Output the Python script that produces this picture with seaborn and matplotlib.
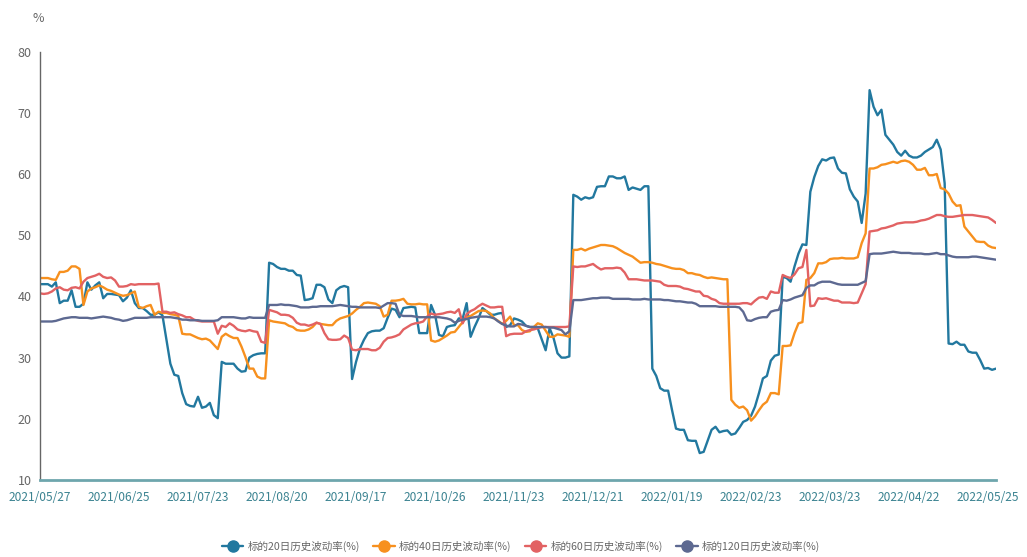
import numpy as np
import pandas as pd
import matplotlib
matplotlib.use("Agg")
import matplotlib.pyplot as plt
from matplotlib.lines import Line2D
import seaborn as sns

# ---------------- data ----------------
tick_labels = ['2021/05/27', '2021/06/25', '2021/07/23', '2021/08/20', '2021/09/17',
               '2021/10/26', '2021/11/23', '2021/12/21', '2022/01/19', '2022/02/23',
               '2022/03/23', '2022/04/22', '2022/05/25']

series_names = ['标的20日历史波动率(%)', '标的40日历史波动率(%)',
                '标的60日历史波动率(%)', '标的120日历史波动率(%)']

vol20 = [
    42.0, 42.0, 42.0, 41.6, 42.3, 38.9, 39.3, 39.3, 41.0, 38.3,
    38.3, 38.8, 42.3, 41.1, 41.8, 42.3, 39.7, 40.4, 40.4, 40.3,
    40.2, 39.2, 39.8, 41.0, 38.9, 38.1, 38.1, 37.6, 37.0, 37.0,
    37.4, 36.9, 33.0, 29.0, 27.2, 27.0, 24.2, 22.4, 22.1, 22.0,
    23.6, 21.8, 22.0, 22.6, 20.6, 20.1, 29.3, 29.0, 29.0, 29.0,
    28.2, 27.7, 27.8, 30.0, 30.4, 30.6, 30.7, 30.7, 45.5, 45.3,
    44.8, 44.5, 44.5, 44.2, 44.2, 43.5, 43.4, 39.4, 39.5, 39.7,
    41.9, 41.9, 41.5, 39.5, 38.9, 41.0, 41.5, 41.7, 41.5, 26.5,
    29.3, 31.5, 32.9, 34.0, 34.3, 34.4, 34.4, 34.8, 36.5, 38.0,
    37.8, 36.6, 38.1, 38.2, 38.3, 38.2, 34.0, 34.0, 34.0, 38.6,
    37.0, 33.7, 33.5, 35.0, 35.2, 35.3, 36.4, 36.4, 38.9, 33.4,
    35.0, 36.4, 38.1, 37.6, 37.0, 37.0, 37.2, 37.3, 35.0, 35.3,
    36.4, 36.2, 35.9, 35.2, 35.0, 35.0, 34.8, 33.0, 31.2, 34.8,
    33.2, 30.7, 30.0, 30.0, 30.2, 56.6, 56.3, 55.8, 56.2, 56.0,
    56.2, 57.9, 58.0, 58.0, 59.6, 59.6, 59.3, 59.3, 59.6, 57.4,
    57.8, 57.6, 57.4, 58.0, 58.0, 28.2, 27.0, 25.0, 24.6, 24.6,
    21.4, 18.4, 18.2, 18.2, 16.5, 16.4, 16.4, 14.4, 14.6, 16.4,
    18.2, 18.7, 17.8, 18.0, 18.1, 17.4, 17.6, 18.5, 19.5, 19.8,
    20.5, 22.0, 24.2, 26.6, 27.0, 29.5, 30.3, 30.5, 43.2, 43.0,
    42.4, 44.9, 47.0, 48.5, 48.4, 57.1, 59.5, 61.3, 62.4, 62.2,
    62.6, 62.7, 60.9, 60.2, 60.1, 57.5, 56.3, 55.5, 52.0, 56.8,
    73.7, 71.0, 69.6, 70.5, 66.4, 65.6, 64.8, 63.6, 63.0, 63.8,
    63.0, 62.7, 62.7, 63.0, 63.6, 64.0, 64.4, 65.6, 64.0, 58.5,
    32.3, 32.2, 32.6, 32.1, 32.1, 31.0, 30.8, 30.8, 29.6, 28.2,
    28.3, 28.0, 28.2]

vol40 = [
    43.0, 43.0, 43.0, 42.8, 42.7, 44.0, 44.0, 44.2, 44.9, 44.9,
    44.5, 38.6, 40.8, 41.3, 41.5, 41.8, 41.5, 41.1, 40.9, 40.6,
    40.3, 40.1, 40.2, 40.5, 40.8, 38.3, 38.1, 38.4, 38.6, 37.0,
    37.5, 37.3, 37.3, 37.1, 37.0, 36.8, 33.9, 33.8, 33.8, 33.5,
    33.2, 33.0, 33.1, 32.8, 32.1, 31.4, 33.4, 33.9, 33.5, 33.2,
    33.2, 31.8, 30.1, 28.2, 28.2, 26.9, 26.6, 26.6, 36.1, 35.9,
    35.8, 35.7, 35.6, 35.2, 35.0, 34.5, 34.4, 34.4, 34.6, 35.0,
    35.7, 35.5, 35.4, 35.3, 35.3, 36.0, 36.4, 36.6, 36.8, 37.2,
    37.8, 38.3, 38.9, 39.0, 38.9, 38.8, 38.4, 36.7, 37.0, 39.3,
    39.3, 39.4, 39.6, 38.8, 38.7, 38.7, 38.8, 38.7, 38.7, 32.8,
    32.6, 32.8, 33.2, 33.6, 34.1, 34.2, 35.0, 35.8, 36.6, 36.8,
    37.2, 37.6, 37.7, 37.6, 37.2, 36.4, 36.0, 35.5, 36.0, 36.7,
    35.3, 35.3, 34.5, 34.2, 34.3, 35.0, 35.6, 35.4, 34.4, 33.4,
    33.4, 33.8, 33.7, 33.6, 33.4, 47.6, 47.6, 47.8, 47.5, 47.8,
    48.0, 48.2, 48.4, 48.4, 48.3, 48.2, 47.9, 47.5, 47.1, 46.8,
    46.5, 46.0, 45.5, 45.6, 45.6, 45.5, 45.3, 45.2, 45.0, 44.8,
    44.6, 44.5, 44.5, 44.3, 43.8, 43.8, 43.6, 43.5, 43.2, 43.0,
    43.1, 43.0, 42.9, 42.8, 42.8, 23.1, 22.3, 21.8, 22.0, 21.4,
    19.7, 20.4, 21.4, 22.3, 22.8, 24.2, 24.2, 24.0, 31.9, 31.9,
    32.0, 34.0, 35.6, 35.8, 42.7, 43.0, 43.8, 45.4, 45.4, 45.6,
    46.1, 46.2, 46.2, 46.3, 46.2, 46.2, 46.2, 46.4, 48.7, 50.3,
    60.9, 60.9, 61.1, 61.5, 61.6, 61.8, 62.0, 61.8, 62.1, 62.2,
    62.0, 61.5, 60.7, 60.7, 61.0, 59.8, 59.8, 60.0, 57.7, 57.5,
    56.8, 55.5, 54.8, 54.9, 51.4, 50.6, 49.8, 49.0, 48.9, 48.9,
    48.3, 48.0, 47.9]

vol60 = [
    40.5, 40.4, 40.5, 40.8, 41.3, 41.5, 41.1, 41.0, 41.4, 41.5,
    41.3, 42.4, 43.0, 43.2, 43.4, 43.7, 43.2, 43.0, 43.1, 42.6,
    41.6, 41.6, 41.7, 42.0, 41.9, 42.0, 42.0, 42.0, 42.0, 42.0,
    42.1, 37.5, 37.5, 37.3, 37.4, 37.1, 36.9, 36.6, 36.6, 36.2,
    36.0, 35.9, 35.9, 35.9, 35.9, 33.9, 35.2, 35.0, 35.6, 35.2,
    34.6, 34.4, 34.3, 34.5, 34.3, 34.2, 32.6, 32.4, 37.8, 37.6,
    37.4, 37.0, 37.0, 36.9, 36.5, 35.7, 35.4, 35.4, 35.2, 35.4,
    35.7, 35.5, 34.0, 33.0, 32.9, 32.9, 33.0, 33.6, 33.2, 31.3,
    31.2, 31.4, 31.4, 31.4, 31.2, 31.2, 31.6, 32.6, 33.2, 33.3,
    33.5, 33.8, 34.6, 35.0, 35.4, 35.6, 35.7, 35.9, 36.7, 37.2,
    37.0, 37.1, 37.2, 37.4, 37.5, 37.3, 37.9, 35.6, 37.1, 37.6,
    37.9, 38.4, 38.8, 38.5, 38.2, 38.2, 38.3, 38.3, 33.5, 33.8,
    33.9, 33.9, 33.9, 34.3, 34.5, 34.6, 34.8, 35.0, 35.0, 35.0,
    35.0, 35.0, 35.0, 35.0, 35.1, 44.9, 44.8, 44.9, 44.9, 45.1,
    45.3, 44.8, 44.4, 44.6, 44.6, 44.6, 44.7, 44.6, 43.9, 42.8,
    42.8, 42.8, 42.7, 42.6, 42.6, 42.6, 42.5, 42.4, 41.9, 41.7,
    41.7, 41.7, 41.6, 41.3, 41.2, 41.0, 40.8, 40.8, 40.1, 40.0,
    39.6, 39.4, 38.9, 38.8, 38.8, 38.8, 38.8, 38.8, 38.9, 38.9,
    38.7, 39.3, 39.8, 39.9, 39.6, 40.8, 40.6, 40.6, 43.5, 43.2,
    43.0, 43.6, 44.6, 44.8, 47.6, 38.4, 38.5, 39.7, 39.6, 39.7,
    39.5, 39.3, 39.3, 39.0, 39.0, 39.0, 38.9, 39.0, 40.5, 42.0,
    50.6, 50.7, 50.8, 51.1, 51.2, 51.4, 51.6, 51.9, 52.0, 52.1,
    52.1, 52.1, 52.2, 52.4, 52.5, 52.7, 53.0, 53.3, 53.3, 53.1,
    53.0, 53.0, 53.1, 53.2, 53.3, 53.3, 53.3, 53.2, 53.1, 53.0,
    52.9, 52.5, 52.0]

vol120 = [
    35.9, 35.9, 35.9, 35.9, 36.0, 36.2, 36.4, 36.5, 36.6, 36.6,
    36.5, 36.5, 36.5, 36.4, 36.5, 36.6, 36.7, 36.6, 36.5, 36.3,
    36.2, 36.0, 36.1, 36.3, 36.5, 36.5, 36.5, 36.5, 36.6, 36.6,
    36.6, 36.6, 36.6, 36.6, 36.5, 36.4, 36.2, 36.2, 36.1, 36.1,
    36.1, 36.0, 36.0, 36.0, 36.0, 36.1, 36.6, 36.6, 36.6, 36.6,
    36.5, 36.4, 36.4, 36.6, 36.5, 36.5, 36.5, 36.5, 38.6, 38.6,
    38.6, 38.7, 38.6, 38.6, 38.5, 38.4, 38.2, 38.2, 38.2, 38.3,
    38.3, 38.4, 38.4, 38.4, 38.4, 38.5, 38.6, 38.5, 38.4, 38.3,
    38.3, 38.2, 38.2, 38.2, 38.2, 38.2, 38.1, 38.5, 38.9, 38.9,
    38.8, 37.0, 36.8, 36.8, 36.8, 36.7, 36.6, 36.6, 36.6, 36.6,
    36.6, 36.6, 36.5, 36.4, 36.2, 35.7, 36.0, 36.2, 36.3, 36.5,
    36.6, 36.7, 36.7, 36.7, 36.6, 36.4, 35.9, 35.5, 35.2, 35.1,
    35.1, 35.5, 35.4, 35.2, 35.0, 35.0, 35.0, 35.0, 35.0, 34.9,
    34.9, 34.7, 34.5, 33.8, 34.3, 39.4, 39.4, 39.4, 39.5, 39.6,
    39.7, 39.7, 39.8, 39.8, 39.8, 39.6, 39.6, 39.6, 39.6, 39.6,
    39.5, 39.5, 39.5, 39.6, 39.5, 39.5, 39.5, 39.5, 39.4, 39.4,
    39.3, 39.2, 39.2, 39.1, 39.0, 39.0, 38.8, 38.4, 38.4, 38.4,
    38.4, 38.4, 38.3, 38.3, 38.3, 38.3, 38.3, 38.2, 37.5, 36.1,
    36.0, 36.3, 36.5, 36.6, 36.6, 37.5, 37.7, 37.8, 39.4, 39.3,
    39.5, 39.8, 40.0, 40.2, 41.4, 41.8, 41.8, 42.2, 42.4, 42.4,
    42.4, 42.2, 42.0, 41.9, 41.9, 41.9, 41.9, 41.9, 42.2, 42.5,
    46.9, 47.0, 47.0, 47.0, 47.1, 47.2, 47.3, 47.2, 47.1, 47.1,
    47.1, 47.0, 47.0, 47.0, 46.9, 46.9, 47.0, 47.1, 46.9, 46.9,
    46.7, 46.5, 46.4, 46.4, 46.4, 46.4, 46.5, 46.5, 46.4, 46.3,
    46.2, 46.1, 46.0]

colors = ['#22789f', '#f7901e', '#e26263', '#5d6991']

# ---------------- build frame ----------------
n = len(vol20)
frames = []
for name, vals in zip(series_names, [vol20, vol40, vol60, vol120]):
    frames.append(pd.DataFrame({'idx': np.arange(len(vals)), 'value': vals, 'series': name}))
df = pd.concat(frames, ignore_index=True)

sns.set_style("white")
cjk = ['Noto Sans CJK SC', 'DejaVu Sans']
plt.rcParams['font.family'] = cjk

fig = plt.figure(figsize=(10.27, 5.57), dpi=100)
ax = fig.add_axes([40 / 1027, 1 - 480 / 557, (996 - 40) / 1027, (480 - 51.6) / 557])

sns.lineplot(data=df, x='idx', y='value', hue='series', palette=colors,
             hue_order=series_names, linewidth=1.7, ax=ax, legend=False)

ax.set_xlim(0, n - 1)
ax.set_ylim(10, 80)
ax.set_xlabel('')
ax.set_ylabel('')

tick_pos = list(range(0, 20 * len(tick_labels), 20))
ax.set_xticks(tick_pos + [n - 1])
ax.set_xticklabels(tick_labels + [''])
ax.set_yticks(np.arange(10, 81, 10))

axis_teal = '#6ea6ad'
label_teal = '#3b8391'
gray = '#666666'

for s in ['top', 'right']:
    ax.spines[s].set_visible(False)
ax.spines['left'].set_color(gray)
ax.spines['left'].set_linewidth(1.0)
ax.spines['bottom'].set_color(axis_teal)
ax.spines['bottom'].set_linewidth(2.0)

ax.tick_params(axis='x', direction='out', length=5, width=1, color=axis_teal,
               labelcolor=label_teal, labelsize=8.6, pad=3)
ax.tick_params(axis='y', direction='out', length=4, width=1, color=gray,
               labelcolor=gray, labelsize=9, pad=2)
ax.grid(False)

fig.text(38 / 1027, 1 - 18 / 557, '%', color=gray, fontsize=9, ha='center', va='center')

handles = [Line2D([0], [0], color=c, lw=1.7, marker='o', markersize=8,
                  markerfacecolor=c, markeredgecolor=c) for c in colors]
leg = fig.legend(handles, series_names, loc='center', ncol=4,
                 bbox_to_anchor=(521 / 1027, 1 - 546 / 557), frameon=False,
                 fontsize=7.6, handlelength=2.0, handletextpad=0.4, columnspacing=1.3,
                 labelcolor=gray)

fig.savefig('out.png', dpi=100)
